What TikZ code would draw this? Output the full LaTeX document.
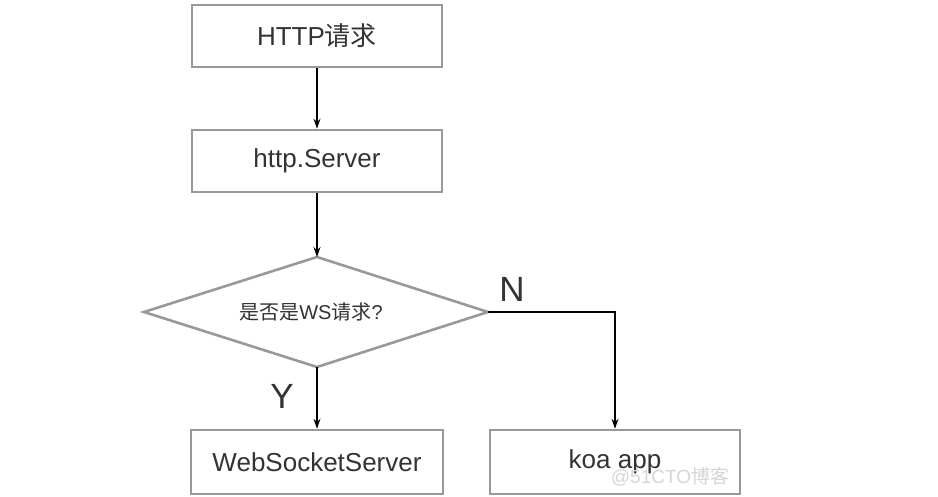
\documentclass[tikz,border=0pt]{standalone}
\usepackage{fontspec}
\setmainfont{Liberation Sans}
\newfontfamily\cjk{Noto Sans CJK SC}
\usetikzlibrary{arrows.meta}
\definecolor{boxgray}{HTML}{999999}
\definecolor{txtgray}{HTML}{333333}
\tikzset{
  flowbox/.style={draw=boxgray, line width=2.6pt, rectangle, minimum width=250pt, minimum height=62pt, inner sep=0pt, text=txtgray, font=\fontsize{26}{29}\selectfont},
  decisionline/.style={draw=boxgray, line width=2.6pt, line join=miter},
  decisiontext/.style={text=txtgray, font=\fontsize{20}{23}\selectfont, inner sep=0pt},
  flowarrow/.style={draw=black, line width=1.2pt, -{Stealth[length=10pt,width=7pt]}},
  branchlabel/.style={text=txtgray, font=\fontsize{35}{38}\selectfont, inner sep=0pt}
}
\begin{document}
\begin{tikzpicture}[x=1pt,y=-1pt]
\useasboundingbox[fill=white] (0,0) rectangle (938,497);
\node[flowbox] (req) at (317,36) {HTTP{\cjk 请求}};
\node[flowbox] (srv) at (317,161) {http.Server};
\coordinate (dtop) at (317,257);
\coordinate (dright) at (488,312);
\coordinate (dbot) at (317,367);
\coordinate (dleft) at (144,312);
\draw[decisionline] (dtop) -- (dright) -- (dbot) -- (dleft) -- cycle;
\node[decisiontext] (dec) at (311,312) {{\cjk 是否是}WS{\cjk 请求}?};
\node[flowbox, minimum width=252pt, minimum height=64pt] (ws) at (317,462) {WebSocketServer};
\node[flowbox, minimum height=64pt] (koa) at (615,462) {koa app};
\coordinate (corner) at (615,312);
\draw[flowarrow] (req.south) -- (srv.north);
\draw[flowarrow] (srv.south) -- (dtop);
\draw[flowarrow] (dbot) -- (ws.north);
\draw[flowarrow] (dright) -- (corner) -- (koa.north);
\node[branchlabel] (ylab) at (282,396) {Y};
\node[branchlabel] (nlab) at (512,289) {N};
\node[text=black!16, font=\fontsize{19}{21}\selectfont, inner sep=0pt] (wm) at (670,477) {@51CTO{\cjk 博客}};
\end{tikzpicture}
\end{document}
